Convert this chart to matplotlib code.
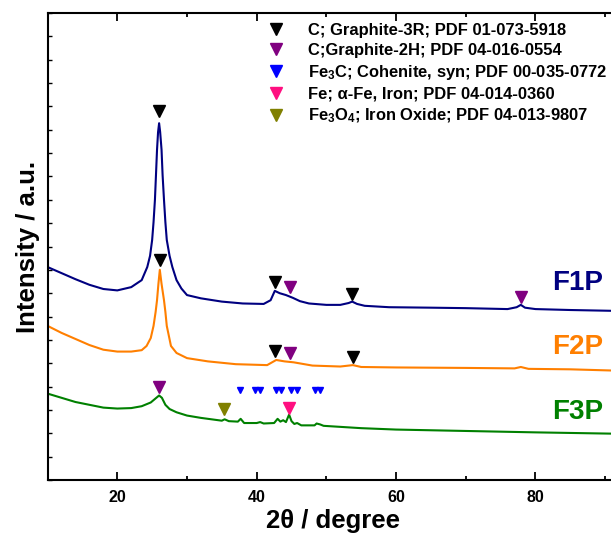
import matplotlib
matplotlib.use("Agg")
import matplotlib.pyplot as plt
from matplotlib.lines import Line2D

plt.rcParams["font.family"] = ["Liberation Sans", "DejaVu Sans"]
plt.rcParams["font.weight"] = "bold"
plt.rcParams["mathtext.fontset"] = "custom"
plt.rcParams["mathtext.rm"] = "Liberation Sans:bold"
plt.rcParams["mathtext.it"] = "Liberation Sans:bold"
plt.rcParams["mathtext.bf"] = "Liberation Sans:bold"

# diffractograms (2theta in degree, intensity in a.u.)
f1p_2theta = [10, 12, 14, 16, 18, 20, 22, 23.5, 24.3, 24.7, 25.0, 25.2, 25.4,
              25.55, 25.7, 25.85, 26.0, 26.15, 26.35, 26.5, 26.7, 26.9, 27.1,
              27.5, 27.9, 28.5, 29.2, 30, 32, 35, 38, 41, 42, 42.6, 43.3, 44.2,
              45.2, 46.2, 47.5, 50, 52, 53.2, 53.7, 54.4, 55.5, 59, 65, 70, 76,
              77.3, 77.9, 78.5, 80, 85, 92]
f1p_int = [45.6, 44.3, 43.0, 41.8, 40.9, 40.6, 41.3, 42.8, 45.6, 48.0, 51.4,
           55.2, 60.0, 65.3, 70.7, 74.5, 76.4, 74.5, 70.7, 65.3, 60.0, 55.2,
           51.4, 48.0, 45.6, 42.8, 41.0, 39.6, 38.9, 38.2, 37.8, 37.7, 38.5,
           40.5, 40.0, 39.6, 39.0, 38.3, 37.8, 37.5, 37.5, 37.9, 38.2, 37.7,
           37.3, 37.0, 36.9, 36.8, 36.6, 37.0, 37.5, 36.9, 36.6, 36.4, 36.2]

f2p_2theta = [10, 12, 14, 16, 18, 20, 22, 23.5, 24.2, 24.8, 25.2, 25.5, 25.7,
              25.9, 26.1, 26.35, 26.7, 26.9, 27.1, 27.7, 28.5, 30, 33, 37,
              41.5, 42.8, 44, 45.3, 48, 52, 53.8, 55, 60, 70, 77, 77.9, 79, 85,
              92]
f2p_int = [33.0, 31.5, 30.2, 28.9, 27.9, 27.5, 27.5, 27.8, 28.7, 30.4, 33.0,
           36.0, 38.5, 42.0, 45.0, 42.0, 38.5, 36.0, 33.0, 28.7, 27.2, 26.1,
           25.4, 24.8, 24.6, 25.7, 25.4, 25.2, 24.5, 24.3, 24.6, 24.2, 24.1,
           24.0, 23.9, 24.2, 23.8, 23.7, 23.4]

f3p_2theta = [10, 12, 14, 16, 18, 20, 22, 23.5, 24.8, 25.6, 26.0, 26.4, 26.9,
              27.5, 28.5, 30, 32, 35, 35.4, 36, 37.3, 37.7, 38.2, 40, 40.5, 41,
              42.5, 43.0, 43.4, 43.8, 44.2, 44.65, 45.0, 45.4, 45.8, 46.4, 48.3,
              48.6, 49.1, 49.6, 55, 60, 70, 80, 92]
f3p_int = [18.5, 17.6, 16.7, 16.1, 15.5, 15.3, 15.4, 15.8, 16.6, 17.6, 18.1,
           17.6, 16.1, 15.2, 14.5, 13.8, 13.3, 12.7, 13.0, 12.6, 12.5, 13.1,
           12.2, 12.2, 12.4, 12.1, 12.2, 13.1, 12.5, 12.8, 12.4, 14.0, 12.6,
           12.0, 12.2, 11.7, 11.7, 12.1, 11.9, 11.6, 11.1, 10.8, 10.5, 10.2,
           9.9]

# phase markers (position, height)
gr3r_2theta = [26.0, 42.6, 53.7, 26.1, 42.6, 53.8]
gr3r_int = [79.0, 42.4, 39.8, 47.1, 27.7, 26.4]
gr2h_2theta = [44.8, 77.9, 44.8, 26.0]
gr2h_int = [41.4, 39.1, 27.3, 20.0]
fe3c_2theta = [37.65, 39.76, 40.47, 42.77, 43.44, 44.88, 45.74, 48.41, 49.08]
fe3c_int = [19.3] * len(fe3c_2theta)
fe_2theta = [44.6]
fe_int = [15.5]
fe3o4_2theta = [35.3]
fe3o4_int = [15.3]

phase_labels = [
    "C; Graphite-3R; PDF 01-073-5918",
    "C;Graphite-2H; PDF 04-016-0554",
    r"Fe$_{3}$C; Cohenite, syn; PDF 00-035-0772",
    "Fe; \u03b1-Fe, Iron; PDF 04-014-0360",
    r"Fe$_{3}$O$_{4}$; Iron Oxide; PDF 04-013-9807",
]
phase_colors = ["black", "#800080", "#0000FF", "#FF0F80", "#808000"]

sample_names = ["F1P", "F2P", "F3P"]
sample_colors = ["#000080", "#FF7F00", "#008000"]

fig = plt.figure(figsize=(6.11, 5.33), dpi=100)
ax = fig.add_axes([47.6 / 611, 53 / 533, 571.5 / 611, 467 / 533])

for x, y, c in zip([f1p_2theta, f2p_2theta, f3p_2theta],
                   [f1p_int, f2p_int, f3p_int], sample_colors):
    ax.plot(x, y, color=c, lw=1.5)

ax.plot(gr3r_2theta, gr3r_int, "v", color=phase_colors[0], ms=8, ls="none")
ax.plot(gr2h_2theta, gr2h_int, "v", color=phase_colors[1], ms=8, ls="none")
ax.plot(fe3c_2theta, fe3c_int, "v", color=phase_colors[2], ms=5, ls="none")
ax.plot(fe_2theta, fe_int, "v", color=phase_colors[3], ms=9, ls="none")
ax.plot(fe3o4_2theta, fe3o4_int, "v", color=phase_colors[4], ms=8, ls="none")

# sample names next to the curves
for name, c, y in zip(sample_names, sample_colors, [42.2, 28.4, 14.6]):
    ax.text(86.1, y, name, color=c, fontsize=20, fontweight="bold",
            ha="center", va="center")

handles = [Line2D([], [], marker="v", ls="none", color=c, ms=9)
           for c in phase_colors]
ax.legend(handles, phase_labels, loc="upper left", frameon=False,
          bbox_to_anchor=(268 / 611, 1 - 23 / 533),
          bbox_transform=fig.transFigure, handlelength=1.0,
          handletextpad=1.44, labelspacing=0.3, borderpad=0,
          borderaxespad=0, prop={"weight": "bold", "size": 11.9})

ax.set_xlim(10, 92)
ax.set_ylim(0, 100)
ax.set_xticks([20, 40, 60, 80])
ax.set_xticks([30, 50, 70, 90], minor=True)
ax.set_yticks(range(0, 101, 5))
ax.set_yticklabels([])
ax.tick_params(axis="x", which="major", direction="in", length=6, width=1.3,
               labelsize=11.5, pad=7, top=True)
ax.tick_params(axis="x", which="minor", direction="in", length=3, width=1.3,
               top=True)
ax.tick_params(axis="y", direction="in", length=3, width=1.0)
for lbl in ax.get_xticklabels():
    lbl.set_fontweight("bold")
for sp in ax.spines.values():
    sp.set_linewidth(1.5)

ax.set_xlabel("2\u03b8 / degree", fontsize=18.5, fontweight="bold", labelpad=3)
ax.set_ylabel("Intensity / a.u.", fontsize=18.5, fontweight="bold", labelpad=2)

fig.savefig("out.png", dpi=100)
